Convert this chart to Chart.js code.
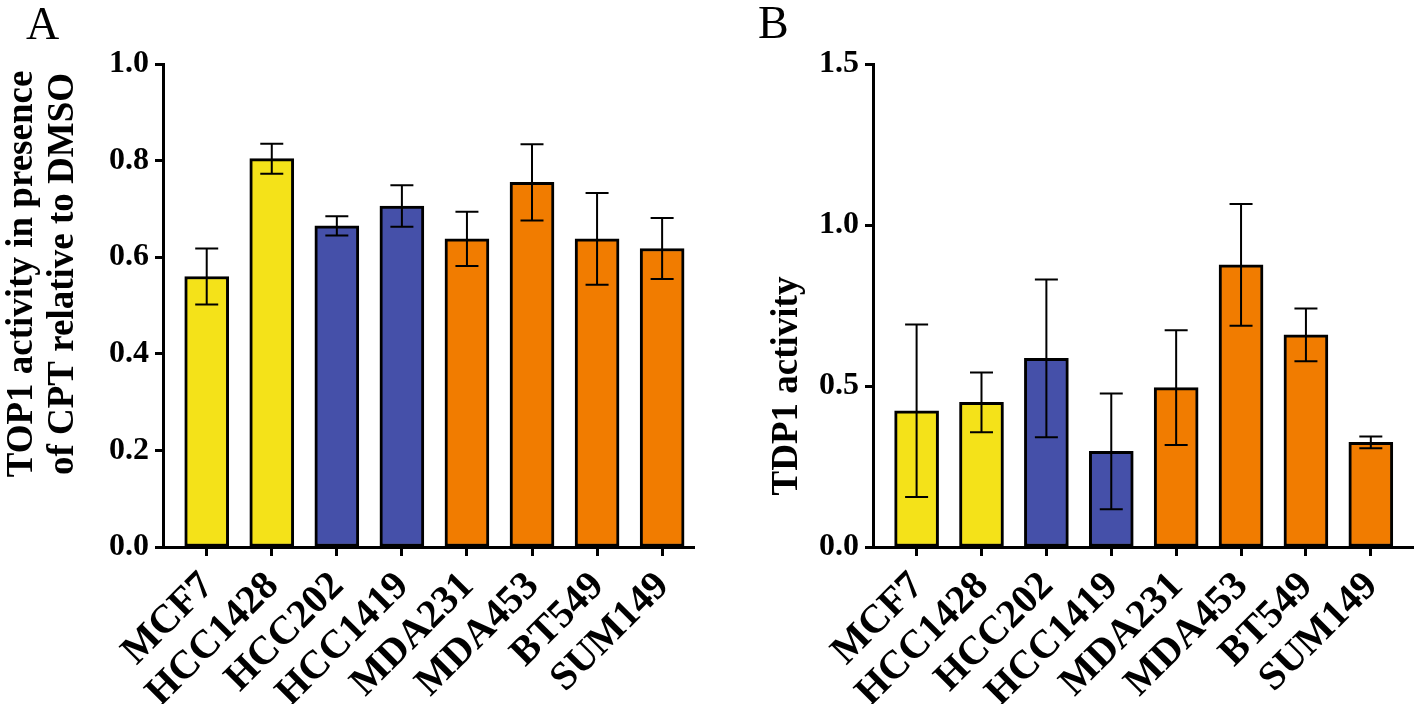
<!DOCTYPE html>
<html>
<head>
<meta charset="utf-8">
<script src="https://cdn.jsdelivr.net/npm/chart.js"></script>
<style>
  body { margin: 0; background: #fff; width: 1417px; height: 704px; position: relative; overflow: hidden; }
  canvas { position: absolute; top: 0; }
</style>
</head>
<body>
<canvas id="chartA" width="708" height="704" style="left:0"></canvas>
<canvas id="chartB" width="709" height="704" style="left:708px"></canvas>
<script>
// cell lines on the x axis (same for both panels)
const cellLines = ["MCF7", "HCC1428", "HCC202", "HCC1419", "MDA231", "MDA453", "BT549", "SUM149"];

// panel A: TOP1 activity with CPT relative to DMSO (mean, error)
const top1Values = [0.56, 0.804, 0.665, 0.706, 0.638, 0.755, 0.638, 0.618];
const top1Errors = [0.058, 0.031, 0.02, 0.043, 0.056, 0.079, 0.095, 0.063];
const top1Ticks = [0, 0.2, 0.4, 0.6, 0.8, 1.0];

// panel B: TDP1 activity (mean, error)
const tdp1Values = [0.423, 0.449, 0.586, 0.297, 0.495, 0.876, 0.659, 0.325];
const tdp1Errors = [0.268, 0.093, 0.245, 0.18, 0.178, 0.189, 0.082, 0.018];
const tdp1Ticks = [0, 0.5, 1.0, 1.5];

const barColors = ['#f4e219', '#f4e219', '#4550a9', '#4550a9', '#f17c00', '#f17c00', '#f17c00', '#f17c00'];

Chart.defaults.font.family = '"Liberation Serif", "Times New Roman", serif';
Chart.defaults.color = '#000';

// whiskers drawn from the y scale
const errorBars = {
  id: 'errorBars',
  afterDatasetsDraw(chart, args, opts) {
    const ctx = chart.ctx;
    const y = chart.scales.y;
    const meta = chart.getDatasetMeta(0);
    const data = chart.data.datasets[0].data;
    ctx.save();
    ctx.strokeStyle = '#000';
    ctx.lineWidth = 2;
    meta.data.forEach((bar, i) => {
      const v = data[i].y, e = opts.errors[i];
      const yt = y.getPixelForValue(v + e);
      const yb = y.getPixelForValue(v - e);
      const half = 11.5;
      ctx.beginPath();
      ctx.moveTo(bar.x, yt); ctx.lineTo(bar.x, yb);
      ctx.moveTo(bar.x - half, yt); ctx.lineTo(bar.x + half, yt);
      ctx.moveTo(bar.x - half, yb); ctx.lineTo(bar.x + half, yb);
      ctx.stroke();
    });
    ctx.restore();
  }
};

// panel letter + y axis title
const panelText = {
  id: 'panelText',
  afterDraw(chart, args, o) {
    const ctx = chart.ctx;
    ctx.save();
    ctx.fillStyle = '#000';
    ctx.textBaseline = 'alphabetic';
    ctx.font = '46px "Liberation Serif"';
    ctx.fillText(o.letter, o.letterX, o.letterY);
    ctx.font = 'bold 37px "Liberation Serif"';
    ctx.textAlign = 'center';
    o.title.forEach((line, k) => {
      ctx.save();
      ctx.translate(o.titleX[k], o.titleY);
      ctx.rotate(-Math.PI / 2);
      ctx.fillText(line, 0, 0);
      ctx.restore();
    });
    ctx.restore();
  }
};

function makeChart(id, values, errors, ticks, xMax, padRight, text) {
  return new Chart(document.getElementById(id), {
    type: 'bar',
    data: {
      datasets: [{
        data: cellLines.map((c, i) => ({ x: i, y: values[i] })),
        backgroundColor: barColors,
        borderColor: '#000',
        borderWidth: 3,
        borderSkipped: false,
        barThickness: 44
      }]
    },
    plugins: [errorBars, panelText],
    options: {
      responsive: false,
      animation: false,
      layout: { padding: { left: 0, top: 64, right: padRight, bottom: 0 } },
      scales: {
        x: {
          type: 'linear',
          offset: false,
          min: -0.672,
          max: xMax,
          afterBuildTicks: s => { s.ticks = cellLines.map((c, i) => ({ value: i })); },
          afterFit: s => { s.height = 157; },
          ticks: {
            autoSkip: false,
            minRotation: 45,
            maxRotation: 45,
            padding: 7,
            labelOffset: 1,
            font: { size: 40, weight: 'bold' },
            callback: v => cellLines[v]
          },
          grid: { offset: false, drawOnChartArea: false, tickLength: 9, tickWidth: 3, color: '#000' },
          border: { color: '#000', width: 3 }
        },
        y: {
          min: 0,
          max: ticks[ticks.length - 1],
          afterBuildTicks: s => { s.ticks = ticks.map(v => ({ value: v })); },
          afterFit: s => { s.width = text.axisX; },
          ticks: {
            padding: 6,
            font: { size: 32, weight: 'bold' },
            callback: v => v.toFixed(1)
          },
          grid: { drawOnChartArea: false, tickLength: 8, tickWidth: 3, color: '#000' },
          border: { color: '#000', width: 3 }
        }
      },
      plugins: {
        legend: { display: false },
        tooltip: { enabled: false },
        errorBars: { errors: errors },
        panelText: text
      }
    }
  });
}

makeChart('chartA', top1Values, top1Errors, top1Ticks, 7.49, 14, {
  axisX: 163,
  letter: 'A', letterX: 26, letterY: 39,
  title: ['TOP1 activity in presence', 'of CPT relative to DMSO'],
  titleX: [32, 73], titleY: 274
});

makeChart('chartB', tdp1Values, tdp1Errors, tdp1Ticks, 7.65, 4, {
  axisX: 165,
  letter: 'B', letterX: 50, letterY: 38,
  title: ['TDP1 activity'],
  titleX: [89], titleY: 386
});
</script>
</body>
</html>
